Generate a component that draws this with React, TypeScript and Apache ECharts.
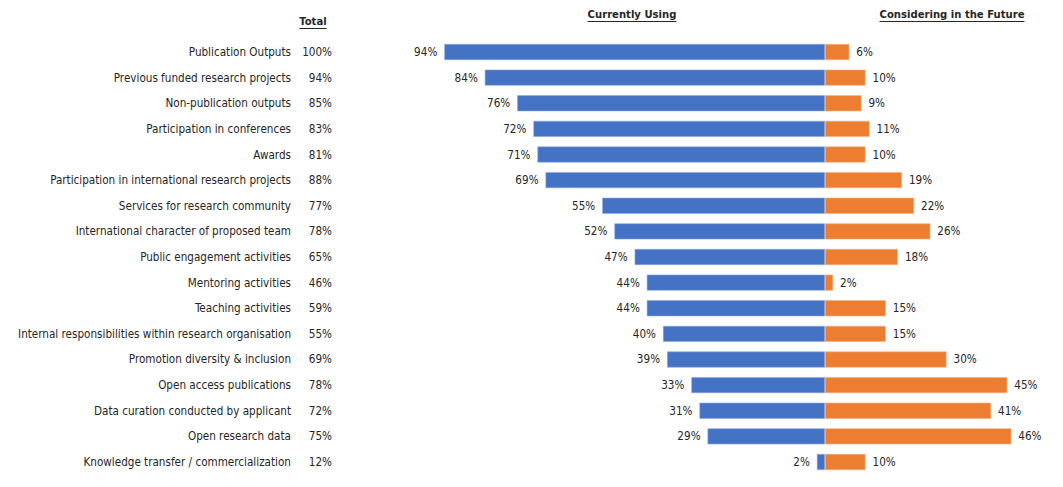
import React, { useEffect, useRef } from "react";
import * as echarts from "echarts";

const categories = [
  "Publication Outputs",
  "Previous funded research projects",
  "Non-publication outputs",
  "Participation in conferences",
  "Awards",
  "Participation in international research projects",
  "Services for research community",
  "International character of proposed team",
  "Public engagement activities",
  "Mentoring activities",
  "Teaching activities",
  "Internal responsibilities within research organisation",
  "Promotion diversity & inclusion",
  "Open access publications",
  "Data curation conducted by applicant",
  "Open research data",
  "Knowledge transfer / commercialization",
];
const totals = [100, 94, 85, 83, 81, 88, 77, 78, 65, 46, 59, 55, 69, 78, 72, 75, 12];
const currentlyUsing = [94, 84, 76, 72, 71, 69, 55, 52, 47, 44, 44, 40, 39, 33, 31, 29, 2];
const consideringFuture = [6, 10, 9, 11, 10, 19, 22, 26, 18, 2, 15, 15, 30, 45, 41, 46, 10];

const FONT = "'Liberation Sans Narrow', 'DejaVu Sans Condensed', 'Liberation Sans', sans-serif";
const TXT = "#262626";
const FS = 11.6;
const HFS = 11.2;

export default function App() {
  const ref = useRef<HTMLDivElement>(null);
  useEffect(() => {
    if (!ref.current) return;
    const chart = echarts.init(ref.current, null, { renderer: "svg" });
    const hdr = (text: string, cx: number, y: number) => {
      const font = `bold ${HFS}px ${FONT}`;
      const t = new (echarts.graphic as any).Text({ style: { text, font } });
      const w = t.getBoundingRect().width;
      return [
        {
          type: "text",
          x: cx,
          y,
          style: { text, font, fill: TXT, align: "center", verticalAlign: "middle" },
        },
        {
          type: "line",
          shape: { x1: cx - w / 2, y1: y + 7.5, x2: cx + w / 2, y2: y + 7.5 },
          style: { stroke: TXT, lineWidth: 1 },
        },
      ];
    };
    chart.setOption({
      animation: false,
      textStyle: { fontFamily: FONT },
      grid: {
        left: 420,
        right: 35.5,
        top: 39.2,
        bottom: 12.2,
        containLabel: false,
        outerBoundsMode: "none",
      },
      xAxis: { type: "value", min: -100, max: 50, show: false },
      yAxis: [
        {
          type: "category",
          data: categories,
          inverse: true,
          axisLine: { show: false },
          axisTick: { show: false },
          axisLabel: { margin: 129, fontSize: FS, color: TXT, fontFamily: FONT },
        },
        {
          type: "category",
          data: totals.map((t) => t + "%"),
          inverse: true,
          position: "left",
          axisLine: { show: false },
          axisTick: { show: false },
          axisLabel: { margin: 88, fontSize: FS, color: TXT, fontFamily: FONT },
        },
      ],
      series: [
        {
          name: "Currently Using",
          type: "bar",
          data: currentlyUsing.map((v) => -v),
          barWidth: 16,
          barGap: "-100%",
          itemStyle: { color: "#4472C4", borderColor: "#8FAADC", borderWidth: 0.6 },
          label: {
            show: true,
            position: "left",
            distance: 7,
            formatter: (p: any) => Math.abs(p.value) + "%",
            fontSize: FS,
            color: TXT,
            fontFamily: FONT,
          },
        },
        {
          name: "Considering in the Future",
          type: "bar",
          data: consideringFuture,
          barWidth: 16,
          barGap: "-100%",
          itemStyle: { color: "#ED7D31", borderColor: "#F4B183", borderWidth: 0.6 },
          label: {
            show: true,
            position: "right",
            distance: 7,
            formatter: (p: any) => p.value + "%",
            fontSize: FS,
            color: TXT,
            fontFamily: FONT,
          },
        },
      ],
      graphic: [
        ...hdr("Total", 313, 21),
        ...hdr("Currently Using", 632, 14),
        ...hdr("Considering in the Future", 952, 14),
      ],
    });
    return () => chart.dispose();
  }, []);
  return (
    <div
      ref={ref}
      style={{ position: "absolute", left: 0, top: 0, width: 1063, height: 487, background: "#fff" }}
    />
  );
}
